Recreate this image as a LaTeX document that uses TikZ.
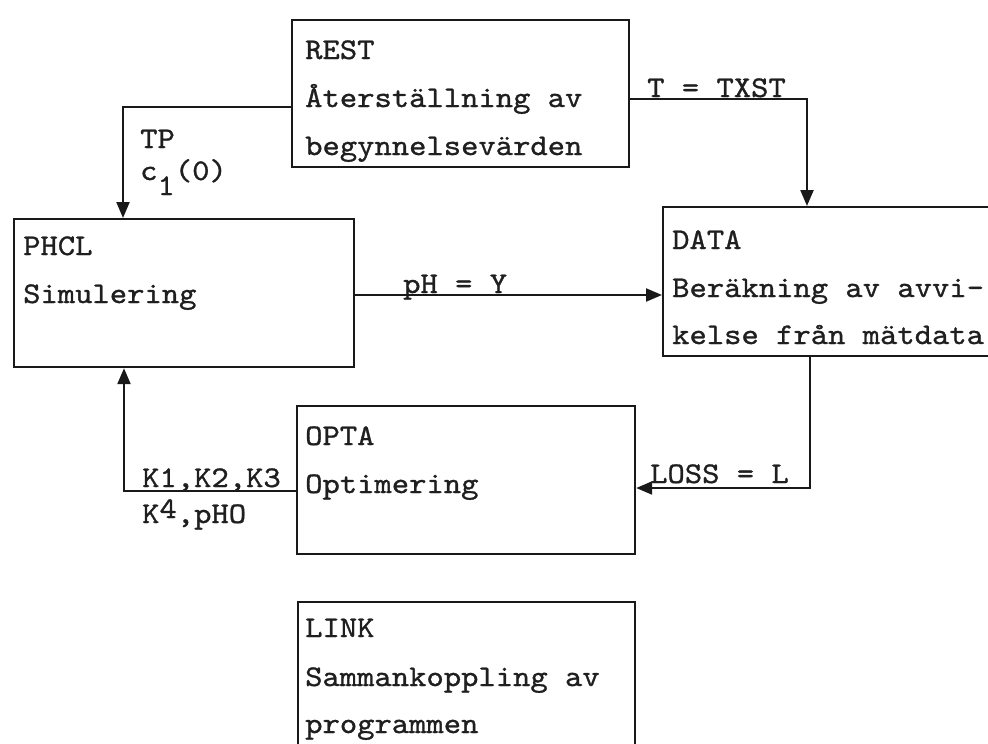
\documentclass[tikz,border=0pt]{standalone}
\usepackage{fontspec}
\setmainfont{lmmono10-regular.otf}[FakeStretch=1.1,FakeBold=1]
\usetikzlibrary{arrows.meta,calc}
\begin{document}
\begin{tikzpicture}[x=1pt,y=-1pt,
  box/.style={draw=black!90,line width=2.2pt,anchor=north west,inner sep=0pt},
  txt/.style={anchor=base west,inner sep=0pt,text=black!88,font=\fontsize{30}{30}\selectfont},
  lbl/.style={anchor=base west,inner sep=0pt,text=black!88,font=\fontsize{30}{30}\selectfont},
  arr/.style={draw=black!90,line width=2.2pt,-{Triangle[length=16pt,width=13pt]}}]
\useasboundingbox (0,0) rectangle (988,744);
\clip (0,0) rectangle (988,744);
\fill[white] (0,0) rectangle (988,744);

% program blocks
\node[box,minimum width=337pt,minimum height=147pt] (rest) at (291,19) {};
\node[box,minimum width=340pt,minimum height=148pt] (phcl) at (13,218) {};
\node[box,minimum width=345pt,minimum height=149pt] (data) at (662,206) {};
\node[box,minimum width=338pt,minimum height=148pt] (opta) at (296,405) {};
\node[box,minimum width=337pt,minimum height=170pt] (link) at (297,601) {};

% block texts
\node[txt] (rest1) at (305,59) {REST};
\node[txt] (rest2) at (305,107) {Återställning av};
\node[txt] (rest3) at (305,155) {begynnelsevärden};

\node[txt] (phcl1) at (23,255) {PHCL};
\node[txt] (phcl2) at (23,303) {Simulering};

\node[txt] (data1) at (672,249) {DATA};
\node[txt] (data2) at (672,297) {Beräkning av avvi-};
\node[txt] (data3) at (672,344) {kelse från mätdata};

\node[txt] (opta1) at (305,445) {OPTA};
\node[txt] (opta2) at (305,493) {Optimering};

\node[txt] (link1) at (305,637) {LINK};
\node[txt] (link2) at (305,686) {Sammankoppling av};
\node[txt] (link3) at (305,733) {programmen};

% connectors
\draw[arr] ($(rest.north west)+(0,88)$) -| ($(phcl.north west)+(110,0)$);
\draw[arr] ($(rest.north east)+(0,80)$) -| ($(data.north west)+(145,0)$);
\draw[arr] ($(phcl.north east)+(0,77)$) -- ($(data.north west)+(0,89)$);
\draw[arr] ($(data.south west)+(148,0)$) |- ($(opta.north east)+(0,83)$);
\draw[arr] ($(opta.north west)+(0,86)$) -| ($(phcl.south west)+(111,0)$);

% connector labels
\node[lbl] (tp) at (140,148) {TP};
\node[lbl] (c10) at (140,180) {c\raisebox{-15pt}{1}(0)};
\node[lbl] (txst) at (647,97) {T = TXST};
\node[lbl] (phy) at (403,293) {pH = Y};
\node[lbl] (loss) at (650,483) {LOSS = L};
\node[lbl] (kk) at (142,487) {K1,K2,K3};
\node[lbl] (kp) at (142,523) {K\raisebox{5pt}{4},pHO};
\end{tikzpicture}
\end{document}
